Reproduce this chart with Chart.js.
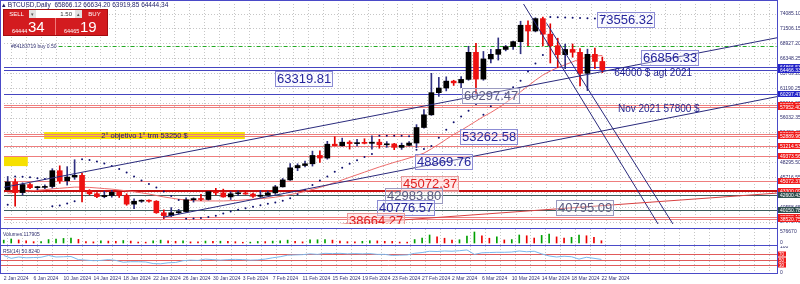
<!DOCTYPE html>
<html>
<head>
<meta charset="utf-8">
<title>BTCUSD Daily</title>
<script src="https://cdn.jsdelivr.net/npm/chart.js@4.4.1/dist/chart.umd.min.js"></script>
<style>
  body { margin: 0; width: 800px; height: 284px; overflow: hidden; background: #fff; position: relative; font-family: "Liberation Sans", Arial, sans-serif; }
  canvas { position: absolute; left: 0; }
  #main { top: 0; }
  #vol { top: 229px; }
  #rsi { top: 246px; }
  .frame { position: absolute; left: 0; width: 778px; border: 1px solid #4a4ac8; box-sizing: border-box; pointer-events: none; }
  #title { position: absolute; left: 2px; top: 1px; font-size: 6.5px; line-height: 7px; color: #1c1c66; white-space: nowrap; }
  #panel { position: absolute; left: 3px; top: 9px; width: 105px; height: 27px; background: #d31b1f; border: 1px solid #a30d10; box-sizing: border-box; color: #fff; }
  #panel .cell { position: absolute; top: 0; width: 25px; height: 8px; font-size: 6px; line-height: 8px; text-align: center; }
  #panel .sell { left: 0; }
  #panel .buy { right: 0; }
  #panel .lot { position: absolute; left: 25px; top: 0; width: 53px; height: 8px; background: #fff; color: #333; font-size: 6px; line-height: 8px; }
  #panel .arr { position: absolute; top: 0; width: 7px; height: 8px; background: #e2e2e2; color: #555; text-align: center; font-size: 5px; }
  #panel .arr.l { left: 0; }
  #panel .arr.r { right: 0; }
  #panel .val { position: absolute; right: 10px; top: 0; }
  #panel .px { position: absolute; top: 8px; width: 51px; height: 17px; }
  #panel .px.first { border-right: 1px solid #ef7a7a; }
  #panel .sm { position: absolute; left: 8px; bottom: 1px; font-size: 5.5px; }
  #panel .big { position: absolute; left: 24px; top: 0; font-size: 15px; line-height: 17px; }
</style>
</head>
<body>
<canvas id="main" width="800" height="228"></canvas>
<canvas id="vol" width="800" height="16"></canvas>
<canvas id="rsi" width="800" height="38"></canvas>
<div class="frame" style="top:0;height:229px"></div>
<div class="frame" style="top:228px;height:18px"></div>
<div class="frame" style="top:245px;height:29px"></div>
<div id="title">&#9652; BTCUSD,Daily&nbsp; 65866.12 66634.20 63919.85 64444.34</div>
<div id="panel">
  <div class="cell sell">SELL</div>
  <div class="lot"><span class="arr l">&#9662;</span><span class="val">1.50</span><span class="arr r">&#9652;</span></div>
  <div class="cell buy">BUY</div>
  <div class="px first" style="left:0"><span class="sm">64444</span><span class="big">34</span></div>
  <div class="px" style="left:52px"><span class="sm">64465</span><span class="big">19</span></div>
</div>
<script>
// Fechas de las velas diarias (2 ene - 22 mar 2024)
const dates = [
  '2 Jan 2024','3 Jan 2024','4 Jan 2024','5 Jan 2024','6 Jan 2024','7 Jan 2024','8 Jan 2024','9 Jan 2024','10 Jan 2024','11 Jan 2024',
  '12 Jan 2024','13 Jan 2024','14 Jan 2024','15 Jan 2024','16 Jan 2024','17 Jan 2024','18 Jan 2024','19 Jan 2024','20 Jan 2024','21 Jan 2024',
  '22 Jan 2024','23 Jan 2024','24 Jan 2024','25 Jan 2024','26 Jan 2024','27 Jan 2024','28 Jan 2024','29 Jan 2024','30 Jan 2024','31 Jan 2024',
  '1 Feb 2024','2 Feb 2024','3 Feb 2024','4 Feb 2024','5 Feb 2024','6 Feb 2024','7 Feb 2024','8 Feb 2024','9 Feb 2024','10 Feb 2024',
  '11 Feb 2024','12 Feb 2024','13 Feb 2024','14 Feb 2024','15 Feb 2024','16 Feb 2024','17 Feb 2024','18 Feb 2024','19 Feb 2024','20 Feb 2024',
  '21 Feb 2024','22 Feb 2024','23 Feb 2024','24 Feb 2024','25 Feb 2024','26 Feb 2024','27 Feb 2024','28 Feb 2024','29 Feb 2024','1 Mar 2024',
  '2 Mar 2024','3 Mar 2024','4 Mar 2024','5 Mar 2024','6 Mar 2024','7 Mar 2024','8 Mar 2024','9 Mar 2024','10 Mar 2024','11 Mar 2024',
  '12 Mar 2024','13 Mar 2024','14 Mar 2024','15 Mar 2024','16 Mar 2024','17 Mar 2024','18 Mar 2024','19 Mar 2024','20 Mar 2024','21 Mar 2024',
  '22 Mar 2024'
];

// OHLC
const open = [43600,44950,43100,44500,43950,44000,44150,46900,45150,45800, 46100,43450,42900,42400,42600,43150,42600,41100,41600,41650,
  41600,39600,39100,39600,39800,41850,42050,41900,43250,43050, 42350,42900,42950,42850,42450,42650,43050,44100,45300,47400,
  47800,48100,49550,49100,51500,51250,51850,51600,51700,51650, 51850,51400,51550,50950,51300,51700,54400,56600,60450,61250,
  62450,62150,62750,67450,62800,66300,67100,67950,68450,69300, 72150,71150,73300,70600,68600,67050,67950,67450,63800,67100,
  65866.12];
const high = [45900,45500,44800,44700,44200,44450,47250,47750,47600,48800, 46500,43600,43100,43350,43500,43250,42900,42000,41850,41850,
  41700,40100,40500,40200,42200,42200,42800,43300,43850,43700, 43250,43400,43300,43000,43450,43350,44350,45550,48150,48100,
  48550,50300,50350,52000,52800,52550,52100,52350,52450,52950, 52350,51950,51650,51700,51950,54900,57500,63800,63100,63200,
  62600,63250,68500,69000,67600,67950,69950,68650,69400,72850, 72900,73450,73556.32,72400,69900,68900,68900,68100,68000,68200,
  66634.20];
const low = [43550,40750,42700,43800,43600,43800,43900,44700,44400,45400, 41500,42700,42200,42200,42300,42250,40900,40300,41400,41450,
  39500,38550,38900,39400,39700,41450,41700,41800,42700,42300, 41900,42550,42800,42250,42250,42550,42800,44050,45200,46900,
  47550,47700,48350,48900,51200,51150,50650,51200,51550,50650, 50800,50950,50550,50600,51200,50900,54300,56500,59800,60750,
  61700,61300,62600,60297.47,62600,65600,66100,67700,67950,67200, 68600,71000,68550,65600,64800,64600,66600,61600,60800,64600,
  63919.85];
const close = [44950,43100,44500,43950,44000,44150,46900,45150,45800,46100, 43450,42900,42400,42600,43150,42600,41100,41600,41650,41600,
  39600,39100,39600,39800,41850,42050,41900,43250,43050,42350, 42900,42950,42850,42450,42650,43050,44100,45300,47400,47800,
  48100,49550,49100,51500,51250,51850,51600,51700,51650,51850, 51400,51550,50950,51300,51700,54400,56600,60450,61250,62450,
  62150,62750,67450,62800,66300,67100,67950,68450,69300,72150, 71150,73300,70600,68600,67050,67950,67450,63800,67100,65866.12,
  64444.34];

// Indicadores: media móvil, SAR parabólico, volumen y RSI(14)
const maValues = [43000,43150,43250,43400,43500,43600,43750,43850,43950,44050, 44050,44000,43900,43800,43700,43550,43400,43250,43050,42850,
  42600,42350,42150,41950,41800,41700,41650,41650,41650,41650, 41700,41750,41850,41950,42050,42150,42300,42500,42750,43000,
  43300,43650,44000,44400,44850,45300,45750,46200,46650,47100, 47550,47950,48350,48700,49100,49500,49950,50700,51500,52350,
  53200,53900,54700,55500,56300,57000,57800,58700,59600,60600, 61600,62600,63500,64200,64800,65300,65800,66300,66600,66800,
  66900];
const sarValues = [41000,45900,45850,45750,45600,45450,40750,40850,41200,41600, 48900,48750,48500,48150,47700,47200,46600,45900,45200,44600,
  44000,43300,42500,41800,38550,38620,38700,38850,39100,39450, 39800,40100,40400,40650,40900,41150,41400,41700,42100,42800,
  43600,44400,45200,45900,46700,47400,48100,48700,49300,49800, 52950,52950,52950,52950,52900,50550,50650,51200,52600,54000,
  55300,56300,57300,58500,56600,58100,59200,60300,61400,62500, 64100,65500,67000,73560,73520,73480,73440,73400,73350,73300,
  73250];
const volumes = [150000,210000,160000,120000,70000,80000,180000,200000,240000,260000, 190000,80000,60000,110000,100000,90000,130000,100000,50000,45000,
  120000,150000,110000,90000,120000,60000,55000,100000,90000,95000, 85000,70000,40000,45000,80000,75000,100000,110000,150000,90000,
  60000,160000,170000,180000,150000,100000,70000,65000,90000,120000, 110000,90000,85000,50000,45000,180000,260000,420000,330000,250000,
  150000,170000,360000,576670,380000,250000,330000,160000,180000,420000, 380000,260000,400000,470000,320000,260000,300000,410000,380000,300000,
  117905];
const rsiValues = [66,55,60,57,58,59,66,60,61,62, 50,48,46,47,50,47,40,42,42,41,
  35,34,38,39,46,48,47,52,50,48, 50,51,50,48,49,52,57,61,67,68,
  69,72,70,74,73,74,72,73,72,73, 70,70,66,67,68,74,77,82,81,83,
  82,84,87,70,76,77,78,78,79,83, 80,82,72,64,60,63,61,52,59,55,
  50.824];
const rsiLevels = [70, 50, 30];

// Escala de precios (etiquetas del eje derecho)
const priceTicks = [74085.10,71506.15,68927.20,66348.25,63769.20,61190.25,58611.30,56032.35,53453.40,50874.45,48295.50,45716.55,43137.60,40558.65,37979.70];
const volumeTicks = [0, 576670];
const rsiTicks = [0, 100];

// Niveles horizontales dibujados en el gráfico
const navyLevels = [64866.53, 64466.33, 60297.47];
const redLevels = [58251.51, 57952.40, 53262.58, 52889.96, 51214.53, 49373.56, 45072.37, 38852.11, 38520.75];
const thickRedLevels = [43300.09];
const slateLevels = [42600.43, 40150.78];
const orderPrice = 68620.50;

// Líneas de tendencia: [día inicio, precio inicio, día fin, precio fin]
const navyTrends = [[-0.5, 44013, 103.5, 69975], [20.9, 38820, 103.5, 59758], [69.4, 75838, 87.5, 37648], [72.5, 72488, 89.5, 37648]];
const redTrends = [[43.7, 37480, 103.5, 43008]];

// Etiquetas de precio en recuadro
const boxPrices = [73556.32, 66856.33, 63319.81, 60297.47, 53262.58, 48869.76, 45072.37, 42983.80, 40776.57, 40795.09, 38664.27];
const boxDays = [79.3, 85.2, 35.9, 61.1, 60.8, 54.8, 52.9, 50.8, 49.7, 73.8, 45.7];
const boxTones = ['navy', 'navy', 'navy', 'gray', 'navy', 'navy', 'red', 'gray', 'navy', 'gray', 'red'];

// Textos libres y zonas amarillas
const noteTexts = ['64000 $ agt 2021', 'Nov 2021 57800 $'];
const notePrices = [64000, 57800];
const noteDays = [81.6, 82.1];
const bandText = '2\u00b0 objetivo 1\u00b0 trm 53250 $';
const bandDays = [4.9, 31.9];
const bandPrices = [53600, 52400];
const markDays = [-0.5, 2.7];
const markPrices = [49373, 47700];

const slots = dates.concat(Array(23).fill(''));
const FONT = '"Liberation Sans", Arial, sans-serif';
Chart.defaults.font.family = FONT;

const bull = open.map((o, i) => close[i] >= o);
const bodyColors = bull.map(b => b ? '#000000' : '#ee1111');
const wickColors = bull.map(b => b ? '#303080' : '#e00000');
const volColors = volumes.map((v, i) => (i === 0 || v > volumes[i - 1]) ? '#00a000' : '#ee0000');

const gridGray = '#c6c6c6';
function xScale(showLabels) {
  return {
    offset: true,
    grid: { offset: true, color: c => (c.index % 2 === 1 ? gridGray : 'rgba(0,0,0,0)'), drawTicks: false, tickLength: 0 },
    border: { display: false, dash: [1, 2] },
    ticks: showLabels ? {
      autoSkip: false, maxRotation: 0, minRotation: 0, align: 'start', padding: 3,
      font: { size: 5 }, color: '#333377',
      callback: (v, i) => (i % 4 === 0 && i < dates.length ? dates[i] : '')
    } : { display: false },
    afterFit: s => { s.height = showLabels ? 11 : 0; s.paddingLeft = 0; s.paddingRight = 0; }
  };
}
function yScale(min, max, ticks, fmt, grid) {
  return {
    position: 'right', min: min, max: max,
    afterBuildTicks: s => { s.ticks = ticks.map(v => ({ value: v })); },
    afterFit: s => { s.width = 23; s.paddingTop = 0; s.paddingBottom = 0; },
    ticks: { autoSkip: false, font: { size: 5 }, color: '#2e2e6e', padding: 3, callback: fmt },
    grid: { display: grid, color: gridGray, drawTicks: false, tickLength: 0 },
    border: { display: false, dash: [1, 2] }
  };
}
const baseOpts = { responsive: false, animation: false, devicePixelRatio: 1, layout: { padding: 0 },
  plugins: { legend: { display: false }, tooltip: { enabled: false } } };

const toneStyle = {
  navy: { text: '#26269c', border: '#8c8cd4', bg: 'rgba(240,240,255,0.35)' },
  gray: { text: '#5a5a80', border: '#9a9ac0', bg: 'rgba(245,245,250,0.35)' },
  red: { text: '#e02020', border: '#e89a9a', bg: 'rgba(255,215,215,0.5)' }
};

const mainOverlay = {
  id: 'mainOverlay',
  beforeDatasetsDraw(chart) {
    const { ctx, chartArea: a, scales: { x, y } } = chart;
    ctx.save();
    ctx.beginPath(); ctx.rect(a.left, a.top, a.width, a.height); ctx.clip();
    // zona amarilla del objetivo
    ctx.fillStyle = '#f6e000';
    const bx1 = x.getPixelForValue(bandDays[0]), bx2 = x.getPixelForValue(bandDays[1]);
    const by1 = y.getPixelForValue(bandPrices[0]), by2 = y.getPixelForValue(bandPrices[1]);
    ctx.fillRect(bx1, by1, bx2 - bx1, by2 - by1);
    const mx1 = x.getPixelForValue(markDays[0]), mx2 = x.getPixelForValue(markDays[1]);
    const my1 = y.getPixelForValue(markPrices[0]), my2 = y.getPixelForValue(markPrices[1]);
    ctx.fillRect(mx1, my1, mx2 - mx1, my2 - my1);
    // niveles horizontales
    const hline = (p, color, w) => {
      const yy = Math.round(y.getPixelForValue(p)) + (w % 2 ? 0.5 : 0);
      ctx.strokeStyle = color; ctx.lineWidth = w;
      ctx.beginPath(); ctx.moveTo(a.left, yy); ctx.lineTo(a.right, yy); ctx.stroke();
    };
    redLevels.forEach(p => hline(p, '#ee7d7d', 1));
    thickRedLevels.forEach(p => hline(p, '#c81010', 2));
    slateLevels.forEach(p => hline(p, '#3d5c5c', 1));
    navyLevels.forEach(p => hline(p, '#4545c0', 1));
    // línea de la orden abierta
    const oy = Math.round(y.getPixelForValue(orderPrice)) + 0.5;
    ctx.font = '5px ' + FONT; ctx.fillStyle = '#303070'; ctx.textBaseline = 'middle';
    const ot = '#84183719 buy 0.50';
    ctx.fillText(ot, a.left + 7, oy);
    ctx.strokeStyle = '#22aa22'; ctx.lineWidth = 1; ctx.setLineDash([4, 2, 1, 2]);
    ctx.beginPath(); ctx.moveTo(a.left + 9 + ctx.measureText(ot).width, oy); ctx.lineTo(a.right, oy); ctx.stroke();
    ctx.setLineDash([]);
    ctx.font = '7.5px ' + FONT; ctx.fillStyle = '#1a1a5a'; ctx.textAlign = 'center';
    ctx.fillText(bandText, (bx1 + bx2) / 2, (by1 + by2) / 2 + 0.5);
    ctx.restore();
  },
  afterDatasetsDraw(chart) {
    const { ctx, chartArea: a, scales: { x, y } } = chart;
    ctx.save();
    ctx.beginPath(); ctx.rect(a.left, a.top, a.width, a.height); ctx.clip();
    const seg = (t, color) => {
      ctx.strokeStyle = color; ctx.lineWidth = 1;
      ctx.beginPath();
      ctx.moveTo(x.getPixelForValue(t[0]), y.getPixelForValue(t[1]));
      ctx.lineTo(x.getPixelForValue(t[2]), y.getPixelForValue(t[3]));
      ctx.stroke();
    };
    navyTrends.forEach(t => seg(t, '#2a2a7c'));
    redTrends.forEach(t => seg(t, '#d84040'));
    // etiquetas en recuadro
    ctx.font = '13px ' + FONT; ctx.textBaseline = 'middle'; ctx.textAlign = 'left';
    boxPrices.forEach((p, i) => {
      const t = p.toFixed(2), st = toneStyle[boxTones[i]];
      const lx = Math.round(x.getPixelForValue(boxDays[i]));
      const cy = y.getPixelForValue(p) + 2;
      const w = Math.round(ctx.measureText(t).width + 3), h = 15;
      const top = Math.round(cy - h / 2);
      ctx.fillStyle = st.bg; ctx.fillRect(lx, top, w, h);
      ctx.strokeStyle = st.border; ctx.strokeRect(lx + 0.5, top + 0.5, w, h);
      ctx.fillStyle = st.text; ctx.fillText(t, lx + 2, top + h / 2 + 1);
    });
    // textos libres
    ctx.font = '10px ' + FONT; ctx.fillStyle = '#1e1e8a';
    noteTexts.forEach((t, i) => ctx.fillText(t, x.getPixelForValue(noteDays[i]), y.getPixelForValue(notePrices[i]) + 1));
    ctx.restore();
  },
  afterDraw(chart) {
    const { ctx, chartArea: a, scales: { y } } = chart;
    ctx.save();
    ctx.font = '5px ' + FONT; ctx.textBaseline = 'middle'; ctx.textAlign = 'left';
    const badge = (p, bg) => {
      const yy = Math.round(y.getPixelForValue(p));
      ctx.fillStyle = bg; ctx.fillRect(a.right + 1, yy - 3, 22, 6);
      ctx.fillStyle = '#fff'; ctx.fillText(p.toFixed(2), a.right + 3, yy + 0.5);
    };
    redLevels.forEach(p => badge(p, '#f01c1c'));
    thickRedLevels.forEach(p => badge(p, '#f01c1c'));
    slateLevels.forEach(p => badge(p, '#2f4f4f'));
    navyLevels.forEach(p => badge(p, '#2424c8'));
    ctx.restore();
  }
};

new Chart(document.getElementById('main'), {
  type: 'bar',
  data: {
    labels: slots,
    datasets: [
      { type: 'line', data: maValues, borderColor: '#ec6b6b', borderWidth: 1, pointRadius: 0, tension: 0, order: 3 },
      { data: dates.map((d, i) => [low[i], high[i]]), backgroundColor: wickColors, barThickness: 1, grouped: false, order: 2 },
      { data: dates.map((d, i) => [open[i], close[i]]), backgroundColor: bodyColors, barThickness: 5, minBarLength: 1, grouped: false, order: 1 },
      { type: 'line', data: sarValues, showLine: false, pointRadius: 1, pointBorderWidth: 0, pointBackgroundColor: '#10106e', order: 0 }
    ]
  },
  options: Object.assign({}, baseOpts, {
    scales: {
      x: xScale(false),
      y: yScale(37648, 75838, priceTicks, v => v.toFixed(2), true)
    }
  }),
  plugins: [mainOverlay]
});

const volOverlay = {
  id: 'volOverlay',
  afterDraw(chart) {
    const { ctx, chartArea: a } = chart;
    ctx.save();
    ctx.font = '5px ' + FONT; ctx.fillStyle = '#303070'; ctx.textBaseline = 'middle';
    ctx.fillText('Volumes ' + volumes[volumes.length - 1], a.left + 3, a.top + 6);
    ctx.restore();
  }
};
new Chart(document.getElementById('vol'), {
  type: 'bar',
  data: { labels: slots, datasets: [{ data: volumes, backgroundColor: volColors, barThickness: 1 }] },
  options: Object.assign({}, baseOpts, {
    scales: { x: xScale(false), y: yScale(-104849, 733944, volumeTicks, v => String(v), false) }
  }),
  plugins: [volOverlay]
});

const rsiOverlay = {
  id: 'rsiOverlay',
  beforeDatasetsDraw(chart) {
    const { ctx, chartArea: a, scales: { y } } = chart;
    ctx.save();
    ctx.strokeStyle = '#e05a5a'; ctx.lineWidth = 1;
    rsiLevels.forEach(l => {
      const yy = Math.round(y.getPixelForValue(l)) + 0.5;
      ctx.beginPath(); ctx.moveTo(a.left, yy); ctx.lineTo(a.right, yy); ctx.stroke();
    });
    ctx.font = '5px ' + FONT; ctx.fillStyle = '#303070'; ctx.textBaseline = 'middle';
    ctx.fillText('RSI(14) ' + rsiValues[rsiValues.length - 1].toFixed(4), a.left + 3, a.top + 6);
    ctx.restore();
  },
  afterDraw(chart) {
    const { ctx, chartArea: a, scales: { y } } = chart;
    ctx.save();
    ctx.font = '4.5px ' + FONT; ctx.textBaseline = 'middle';
    rsiLevels.forEach(l => {
      const yy = Math.round(y.getPixelForValue(l));
      ctx.fillStyle = '#f01c1c'; ctx.fillRect(a.right + 1, yy - 2.5, 8, 5);
      ctx.fillStyle = '#fff'; ctx.fillText(String(l), a.right + 2, yy + 0.5);
    });
    ctx.restore();
  }
};
new Chart(document.getElementById('rsi'), {
  type: 'line',
  data: { labels: slots, datasets: [{ data: rsiValues, borderColor: '#7ab8ec', borderWidth: 1, pointRadius: 0, tension: 0 }] },
  options: Object.assign({}, baseOpts, {
    scales: { x: xScale(true), y: yScale(-1, 102, rsiTicks, v => String(v), false) }
  }),
  plugins: [rsiOverlay]
});
</script>
</body>
</html>
